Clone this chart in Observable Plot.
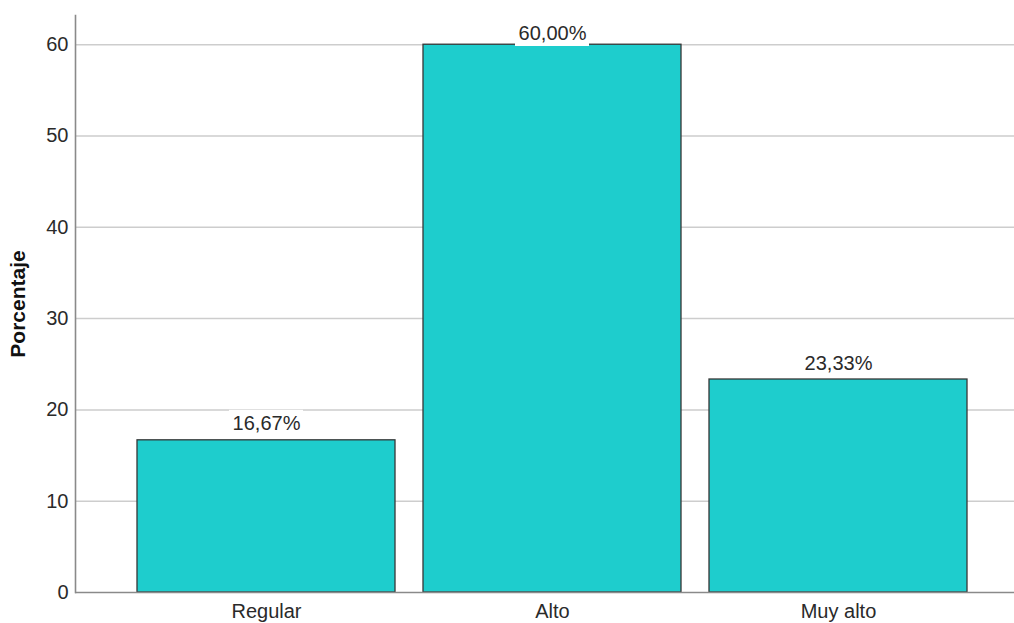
<!DOCTYPE html>
<html>
<head>
<meta charset="utf-8">
<script src="https://cdn.jsdelivr.net/npm/d3@7"></script>
<script src="https://cdn.jsdelivr.net/npm/@observablehq/plot@0.6"></script>
<style>
  html, body { margin: 0; padding: 0; background: #fff; }
  #chart svg { display: block; }
</style>
</head>
<body>
<div id="chart"></div>
<script>
const categories = ["Regular", "Alto", "Muy alto"];
const percents = [16.67, 60.00, 23.33];
const valueLabels = ["16,67%", "60,00%", "23,33%"];
const yTicks = [0, 10, 20, 30, 40, 50, 60];
const yLabel = "Porcentaje";

const data = categories.map((c, i) => ({category: c, value: percents[i], label: valueLabels[i]}));

// keep labels inside the top of the plot area (as SPSS does)
function clampTop(offset) {
  return (index, scales, values, dims, ctx, next) => {
    const v = Object.assign({}, values);
    const minY = dims.marginTop + offset;
    for (const k of ["y", "y1", "y2"]) {
      if (v[k]) v[k] = Array.from(v[k], y => Math.max(y, minY));
    }
    return next(index, scales, v, dims, ctx);
  };
}

const chart = Plot.plot({
  width: 1014,
  height: 623,
  marginLeft: 75,
  marginRight: 0,
  marginTop: 15,
  marginBottom: 31,
  style: {fontFamily: "'Liberation Sans', Arial, sans-serif", fontSize: "20px", color: "#2a2a2a", background: "#fff"},
  x: {domain: categories, paddingInner: 0.098, paddingOuter: 0.19, align: 0.57, label: null},
  y: {domain: [0, 63.2], label: null},
  marks: [
    Plot.gridY(yTicks.filter(t => t > 0), {stroke: "#cdcdcd", strokeOpacity: 1, strokeWidth: 1.5}),
    Plot.barY(data, {x: "category", y: "value", fill: "#1ecdcd", stroke: "#363636", strokeWidth: 1.3}),
    Plot.barY(data, {x: "category", y1: "value", y2: "value", fill: "white", insetLeft: 92, insetRight: 92, insetTop: -30, insetBottom: 3, render: clampTop(34)}),
    Plot.text(data, {x: "category", y: "value", text: "label", lineAnchor: "bottom", dy: -10, fontSize: 20, fill: "#2a2a2a", render: clampTop(34)}),
    Plot.ruleY([0], {stroke: "#8a8a8a", strokeWidth: 1.6}),
    Plot.frame({anchor: "left", stroke: "#8a8a8a", strokeWidth: 1.6}),
    Plot.axisY({ticks: yTicks, tickSize: 0, tickPadding: 7, label: null, fontSize: 20}),
    Plot.axisX({tickSize: 0, tickPadding: 11, label: null, fontSize: 20}),
    Plot.text([yLabel], {frameAnchor: "left", textAnchor: "middle", rotate: -90, dx: -57, fontWeight: "bold", fontSize: 21, fill: "#111"})
  ]
});
document.getElementById("chart").appendChild(chart);
</script>
</body>
</html>
